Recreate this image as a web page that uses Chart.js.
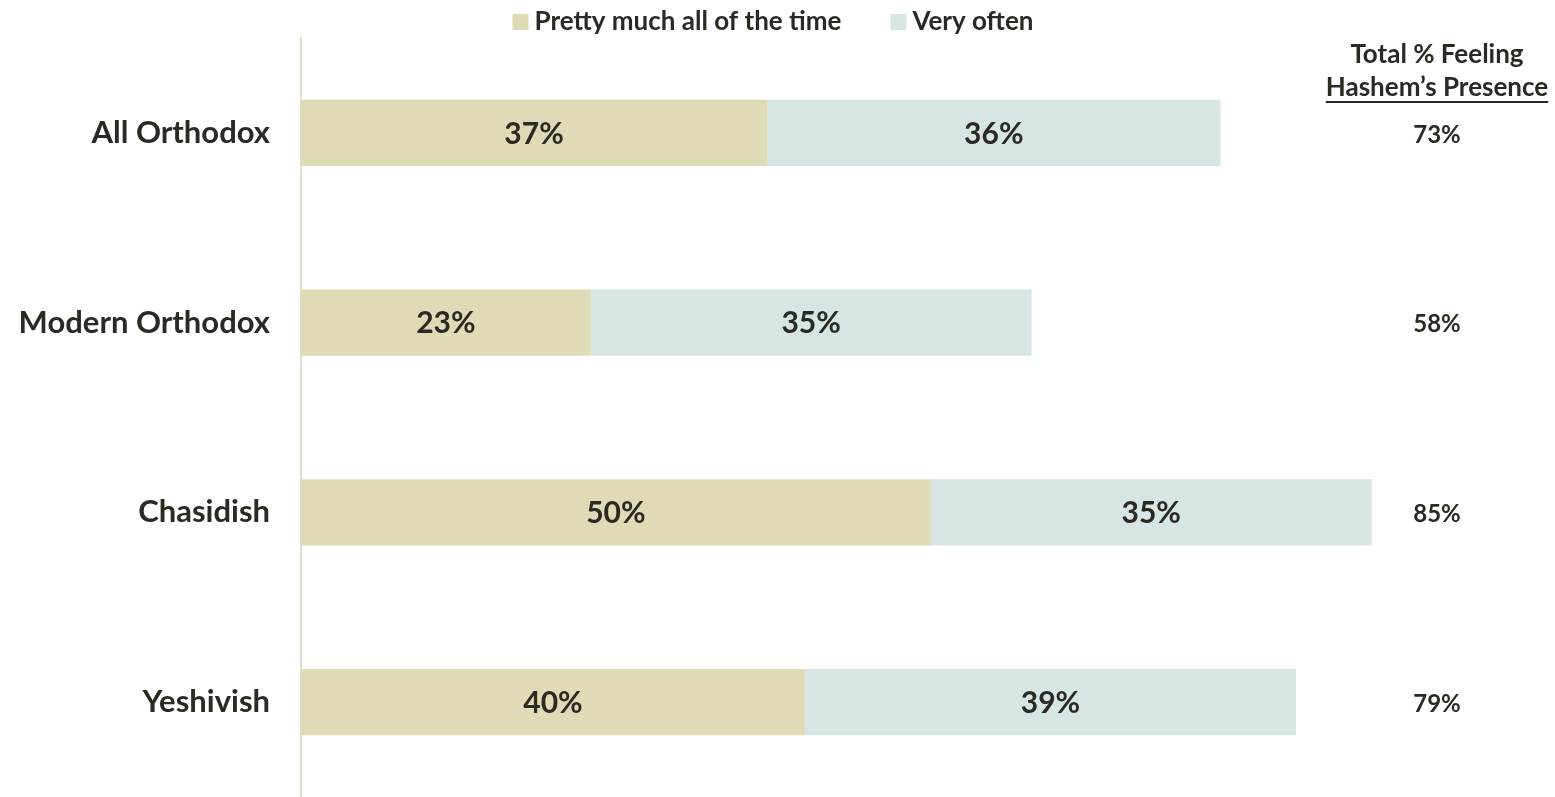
<!DOCTYPE html>
<html>
<head>
<meta charset="utf-8">
<script src="https://cdn.jsdelivr.net/npm/chart.js@4"></script>
<style>
  html, body { margin: 0; padding: 0; background: #fff; }
  canvas { display: block; }
</style>
</head>
<body>
<canvas id="chart" width="1555" height="797"></canvas>
<script>
const categories = ['All Orthodox', 'Modern Orthodox', 'Chasidish', 'Yeshivish'];
const allTheTime = [37, 23, 50, 40];
const veryOften = [36, 35, 35, 39];
const totals = [73, 58, 85, 79];
const seriesNames = ['Pretty much all of the time', 'Very often'];
const seriesColors = ['#dfdbb6', '#d7e5e5'];
const totalHeader = ['Total % Feeling', 'Hashem\u2019s Presence'];

const textColor = '#2b2a22';
const fontFamily = 'Lato, "Open Sans", sans-serif';

// labels in the bars, the totals column and the legend
const annotate = {
  id: 'annotate',
  afterDatasetsDraw(chart) {
    const ctx = chart.ctx;
    ctx.save();
    ctx.fillStyle = textColor;
    ctx.textAlign = 'center';
    ctx.textBaseline = 'middle';

    ctx.font = 'bold 30px ' + fontFamily;
    chart.data.datasets.forEach((ds, i) => {
      chart.getDatasetMeta(i).data.forEach((bar, j) => {
        ctx.fillText(ds.data[j] + '%', (bar.x + bar.base) / 2, bar.y + 1);
      });
    });

    const y = chart.scales.y;
    const colX = 1437;
    ctx.font = 'bold 24px ' + fontFamily;
    totals.forEach((t, j) => ctx.fillText(t + '%', colX, y.getPixelForValue(j) + 2));
    ctx.font = 'bold 26px ' + fontFamily;
    ctx.fillText(totalHeader[0], colX, 55);
    ctx.fillText(totalHeader[1], colX, 88);
    const w = ctx.measureText(totalHeader[1]).width;
    ctx.fillRect(colX - w / 2, 101, w, 2);

    // legend
    ctx.font = 'bold 26px ' + fontFamily;
    ctx.textAlign = 'left';
    const box = 16, gap = 6, itemGap = 49;
    const widths = seriesNames.map(n => ctx.measureText(n).width);
    const total = widths.reduce((a, b) => a + b, 0) + 2 * (box + gap) + itemGap;
    let x = 773 - total / 2;
    seriesNames.forEach((n, i) => {
      ctx.fillStyle = seriesColors[i];
      ctx.fillRect(x, 14, box, box);
      ctx.fillStyle = textColor;
      ctx.fillText(n, x + box + gap, 22);
      x += box + gap + widths[i] + itemGap;
    });
    ctx.restore();
  }
};

new Chart(document.getElementById('chart').getContext('2d'), {
  type: 'bar',
  data: {
    labels: categories,
    datasets: [
      { label: seriesNames[0], data: allTheTime, backgroundColor: seriesColors[0] },
      { label: seriesNames[1], data: veryOften, backgroundColor: seriesColors[1] }
    ]
  },
  options: {
    indexAxis: 'y',
    responsive: false,
    animation: false,
    categoryPercentage: 1,
    barPercentage: 0.35,
    layout: { padding: { top: 38, right: 7, bottom: 0, left: 0 } },
    plugins: {
      legend: { display: false },
      tooltip: { enabled: false }
    },
    scales: {
      x: {
        stacked: true,
        min: 0,
        max: 99,
        display: false
      },
      y: {
        stacked: true,
        afterFit(scale) {
          scale.width = 301;
          scale.paddingTop = 0;
          scale.paddingBottom = 0;
        },
        grid: { display: false, drawTicks: false },
        border: { display: true, color: '#e0ddcf', width: 2 },
        ticks: {
          padding: 31,
          color: textColor,
          font: { family: fontFamily, size: 31, weight: 'bold' }
        }
      }
    }
  },
  plugins: [annotate]
});
</script>
</body>
</html>
